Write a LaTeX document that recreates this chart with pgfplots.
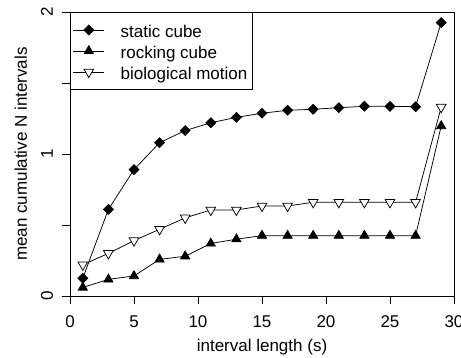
\documentclass[border=0pt]{standalone}
\usepackage{fontspec}
\setmainfont{Liberation Sans}
\usepackage{pgfplots}
\pgfplotsset{compat=1.18}
\begin{document}
\fontsize{17bp}{20bp}\selectfont
\begin{tikzpicture}
\path[use as bounding box] (-70bp,-62bp) rectangle (391bp,296bp);
\begin{axis}[
  at={(0,0)}, anchor=south west,
  scale only axis, width=384bp, height=284bp,
  xmin=0, xmax=30, ymin=0, ymax=2,
  xtick={0,5,...,30}, xticklabels={0,5,10,15,20,25,30},
  ytick={0,0.5,1,1.5,2}, yticklabels={0,,1,,2},
  tick pos=left, tick align=outside, major tick length=8bp,
  tick style={black, line width=0.8bp},
  axis line style={line width=0.9bp},
  xticklabel style={anchor=base, inner sep=0pt},
  xticklabel shift=23bp,
  yticklabel style={rotate=90, anchor=base, inner sep=0pt},
  yticklabel shift=9bp,
  xlabel={interval length (s)},
  xlabel style={at={(axis description cs:0.5,-0.197)}, anchor=base, inner sep=0pt},
  ylabel={mean cumulative N intervals},
  ylabel style={at={(axis description cs:-0.112,0.5)}, anchor=base, inner sep=0pt},
  every axis plot/.append style={black, line width=0.75bp},
  legend cell align=left,
  legend image code/.code={\draw[mark repeat=2,mark phase=2,#1] plot coordinates {(0bp,0bp) (15.5bp,0bp) (31bp,0bp)};},
  legend style={at={(0,1)}, anchor=north west, draw=black, line width=0.9bp,
    inner xsep=2.5bp, inner ysep=7bp, column sep=13bp,
    nodes={text height=15.5bp, text depth=1bp, inner ysep=2.25bp, inner xsep=3bp}},
]
\addplot[mark=square*, mark size=3.5bp, mark options={rotate=45, solid, fill=black}] coordinates {
(1,0.125)(3,0.61)(5,0.89)(7,1.08)(9,1.165)(11,1.22)(13,1.258)(15,1.287)(17,1.308)(19,1.315)(21,1.326)(23,1.336)(25,1.336)(27,1.333)(29,1.925)};
\addlegendentry{static cube}
\addplot[mark=triangle*, mark size=5.3bp, mark options={solid, fill=black}] coordinates {
(1,0.06)(3,0.117)(5,0.141)(7,0.258)(9,0.28)(11,0.37)(13,0.40)(15,0.425)(17,0.425)(19,0.425)(21,0.425)(23,0.425)(25,0.425)(27,0.425)(29,1.197)};
\addlegendentry{rocking cube}
\addplot[mark=triangle*, mark size=5.6bp, mark options={solid, rotate=180, fill=white}] coordinates {
(1,0.22)(3,0.30)(5,0.39)(7,0.47)(9,0.55)(11,0.606)(13,0.606)(15,0.634)(17,0.634)(19,0.66)(21,0.66)(23,0.66)(25,0.66)(27,0.66)(29,1.33)};
\addlegendentry{biological motion}
\end{axis}
\end{tikzpicture}
\end{document}
